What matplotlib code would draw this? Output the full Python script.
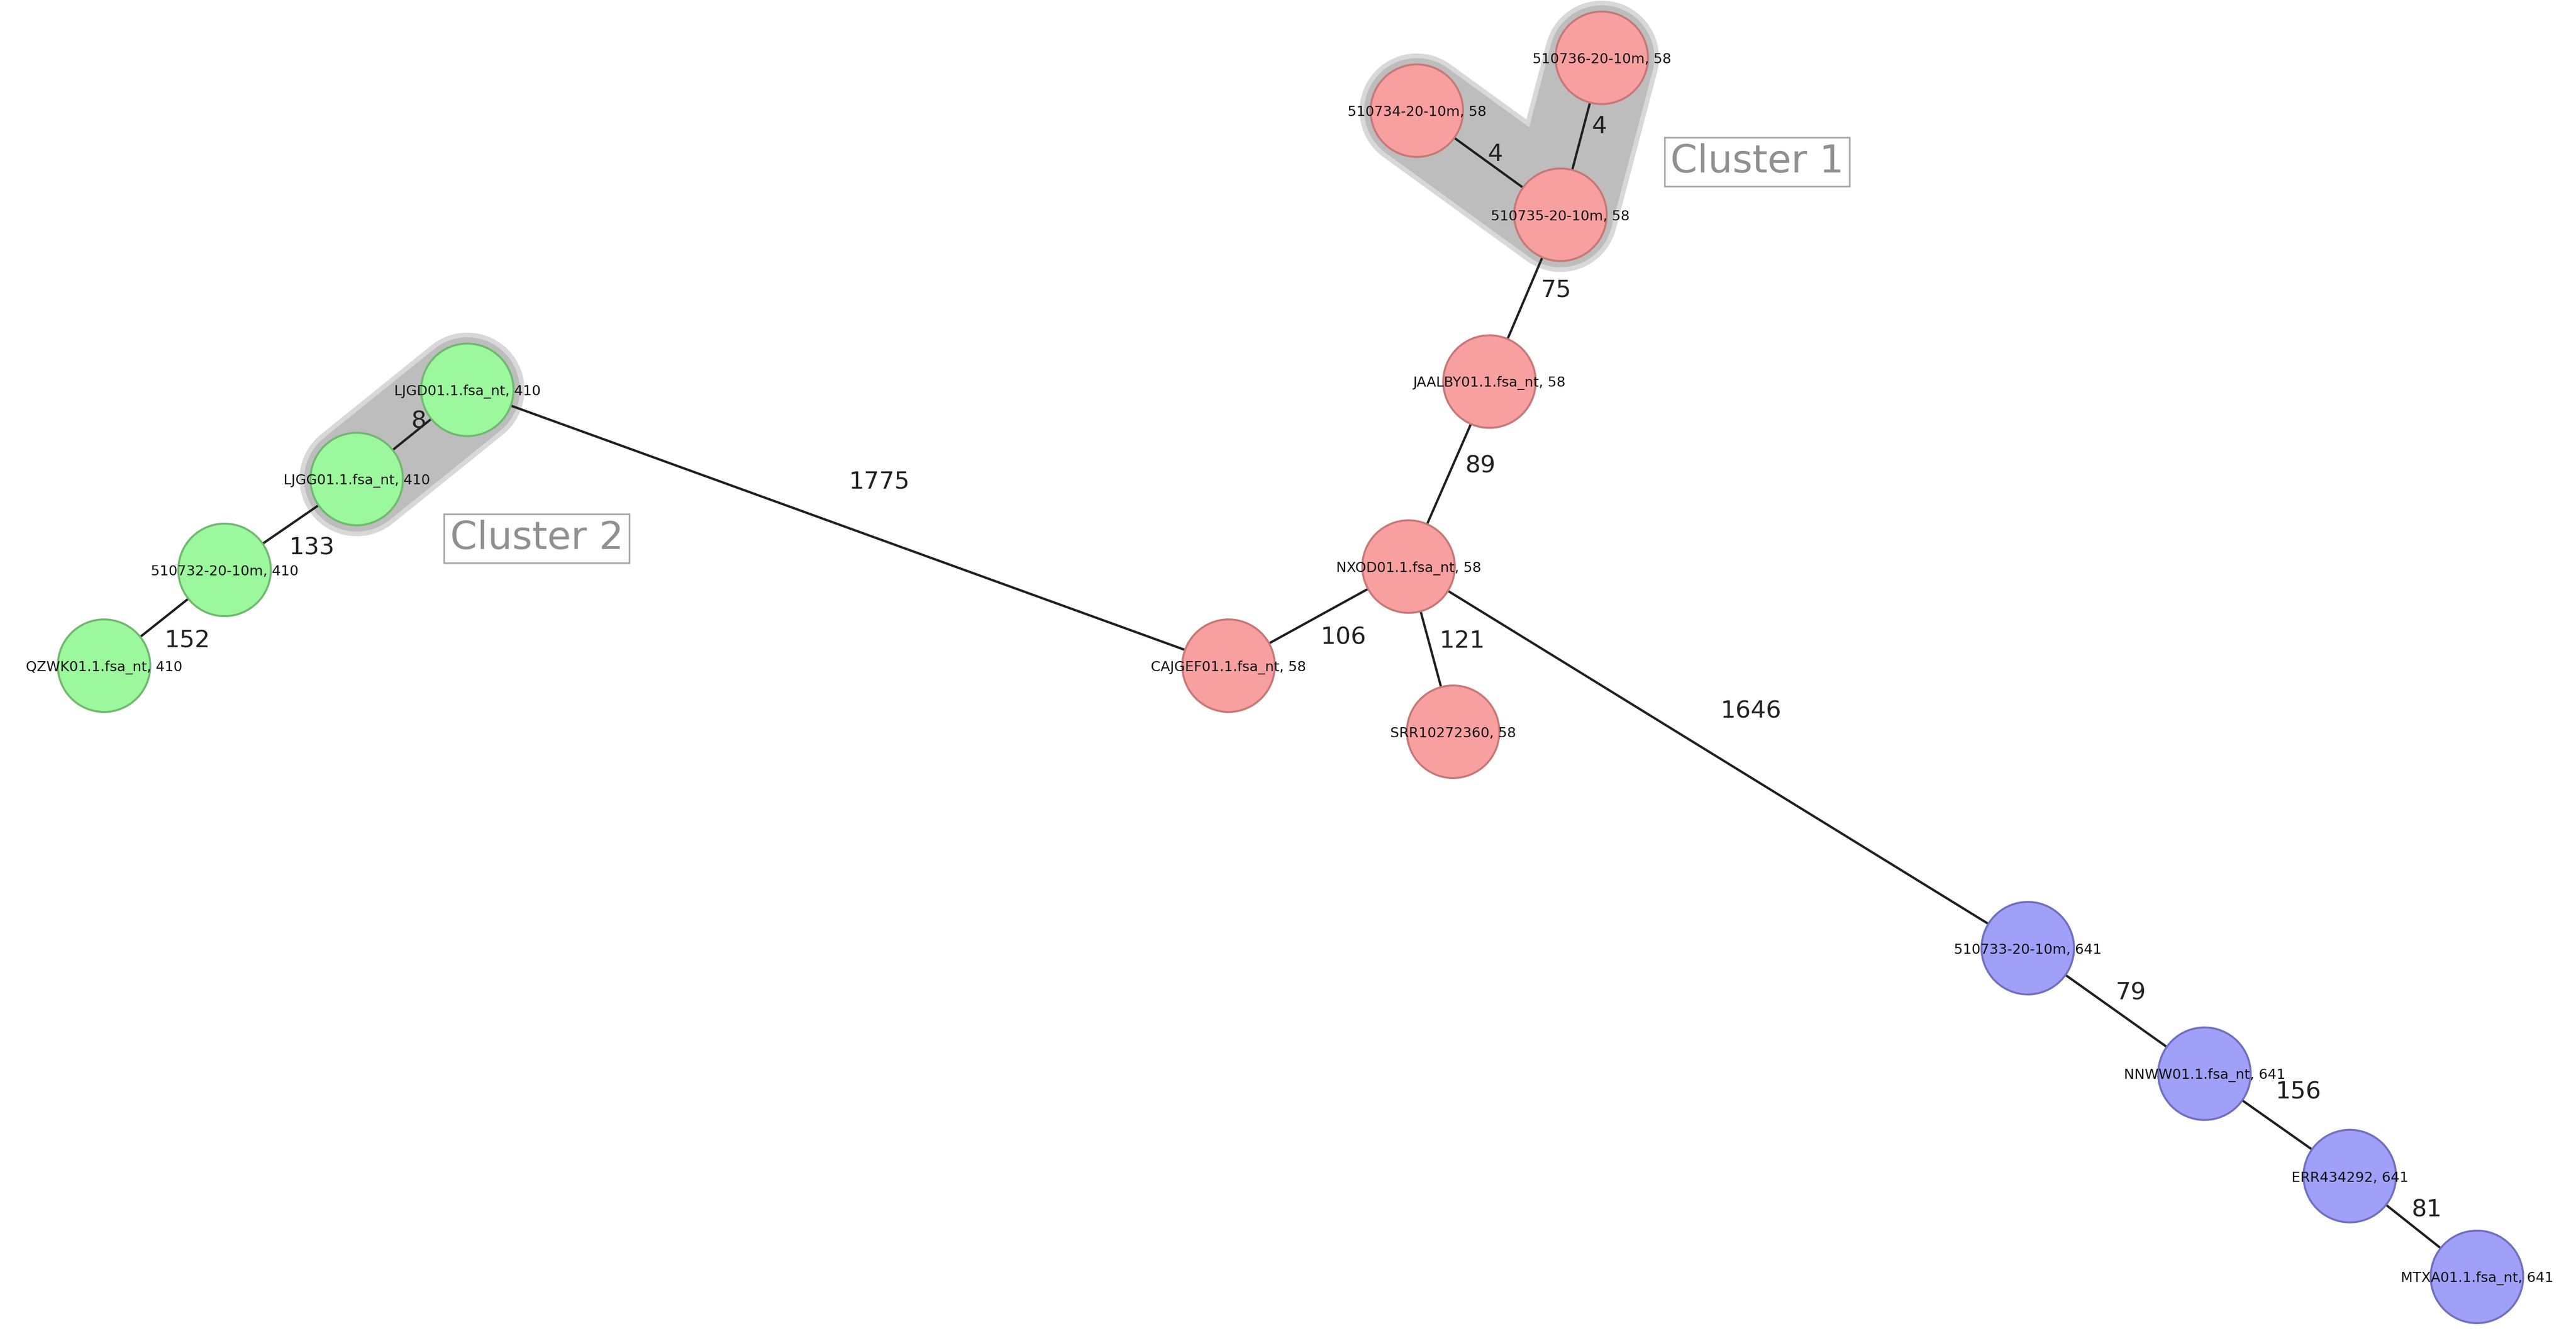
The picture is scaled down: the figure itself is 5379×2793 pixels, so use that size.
import matplotlib
matplotlib.use("Agg")
import matplotlib.pyplot as plt
from matplotlib.patches import Circle

names = ["510736-20-10m, 58", "510734-20-10m, 58", "510735-20-10m, 58", "JAALBY01.1.fsa_nt, 58",
         "NXOD01.1.fsa_nt, 58", "CAJGEF01.1.fsa_nt, 58", "SRR10272360, 58",
         "LJGD01.1.fsa_nt, 410", "LJGG01.1.fsa_nt, 410", "510732-20-10m, 410", "QZWK01.1.fsa_nt, 410",
         "510733-20-10m, 641", "NNWW01.1.fsa_nt, 641", "ERR434292, 641", "MTXA01.1.fsa_nt, 641"]
groups = [58]*7 + [410]*4 + [641]*4
xs = [970, 858, 945, 902, 853, 744, 880, 283, 216, 136, 63, 1228, 1335, 1423, 1500]
ys = [35, 67, 130, 231, 343, 403, 443, 236, 290, 345, 403, 574, 650, 712, 773]
edges = [(1, 2), (0, 2), (2, 3), (3, 4), (4, 5), (4, 6), (4, 11), (5, 7), (7, 8), (8, 9), (9, 10),
         (11, 12), (12, 13), (13, 14)]
weights = [4, 4, 75, 89, 106, 121, 1646, 1775, 8, 133, 152, 79, 156, 81]
lab_dx = [4, 11, 19, 19, 15, 19, 20, 19, 4, 13, 14, 9, 13, 8]
lab_dy = [-5, -6, -5, -5, 13, -5, -28, -28, -8, 14, 14, -11, -20, -10]
clusters = [[1, 2, 0], [7, 8]]
cluster_names = ["Cluster 1", "Cluster 2"]
cluster_pos = [(1064, 98), (325, 326)]

fill = {58: "#F8A0A0", 410: "#9CF89C", 641: "#A0A0F8"}
edgec = {58: "#C87878", 410: "#70B870", 641: "#7070C0"}

fig = plt.figure(figsize=(53.79, 27.93), dpi=100)
ax = fig.add_axes([0, 0, 1, 1])
ax.set_xlim(0, 1560)
ax.set_ylim(810, 0)
ax.set_aspect("equal")
ax.axis("off")

for cl in clusters:
    cx = [xs[i] for i in cl]; cy = [ys[i] for i in cl]
    ax.plot(cx, cy, color="#D8D8D8", lw=172, solid_capstyle="round", solid_joinstyle="round", zorder=0)
    ax.plot(cx, cy, color="#BDBDBD", lw=158, solid_capstyle="round", solid_joinstyle="round", zorder=0.5)

for (a, b), w, dx, dy in zip(edges, weights, lab_dx, lab_dy):
    ax.plot([xs[a], xs[b]], [ys[a], ys[b]], color="#202020", lw=3.5, zorder=1)
    mx = (xs[a] + xs[b]) / 2 + dx; my = (ys[a] + ys[b]) / 2 + dy
    ax.text(mx, my, str(w), fontsize=36, ha="center", va="center", color="#222222", zorder=4)

for n, x, y, g in zip(names, xs, ys, groups):
    ax.add_patch(Circle((x, y), 28, facecolor=fill[g], edgecolor=edgec[g], lw=3, zorder=2))
    ax.text(x, y + 1, n, fontsize=21, ha="center", va="center", color="#111111", zorder=3)

for t, (x, y) in zip(cluster_names, cluster_pos):
    ax.text(x, y, t, fontsize=58, ha="center", va="center", color="#909090", zorder=4,
            bbox=dict(boxstyle="square,pad=0.15", facecolor="white", edgecolor="#A8A8A8", lw=2.5))

fig.savefig("out.png", dpi=100, facecolor="white")
